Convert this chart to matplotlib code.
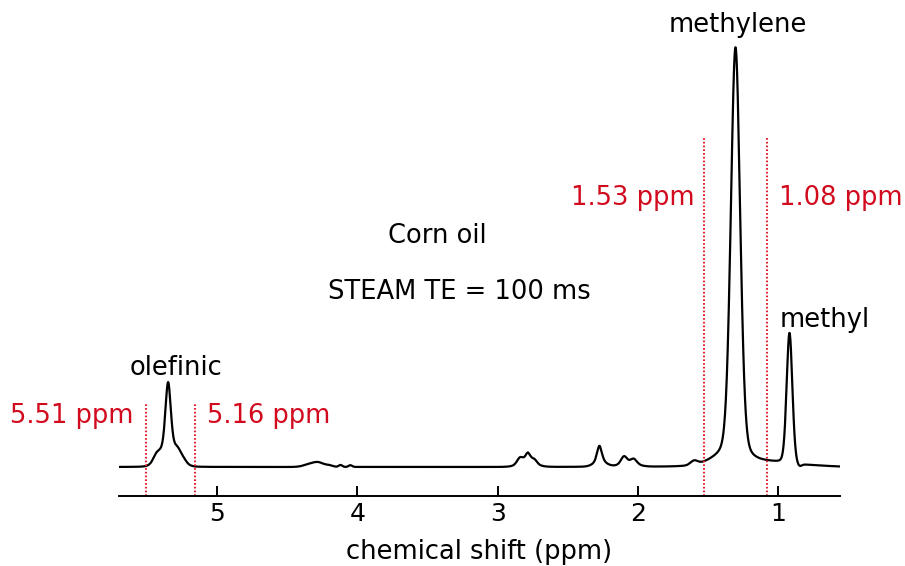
import numpy as np
import matplotlib.pyplot as plt

plt.rcParams['font.family'] = ['DejaVu Sans']

# Peak components (ppm, height in px-like units above baseline)
peak_ppm = [5.43, 5.35, 5.34, 5.28, 5.24,
            4.32, 4.27, 4.20, 4.12, 4.05,
            2.84, 2.785, 2.74, 2.79,
            2.275, 2.27, 2.10, 2.03, 2.065,
            1.60, 1.34, 1.305, 1.05,
            0.92, 0.85, 0.75]
peak_height = [7, 67, 18, 6, 3,
               3.5, 2.5, 1.5, 2, 1.8,
               6, 9, 4, 5,
               16, 5, 7.5, 5, 3.5,
               4, 10, 410, 3,
               132, -3, 1]
peak_fwhm = [0.06, 0.045, 0.15, 0.05, 0.05,
             0.12, 0.08, 0.06, 0.03, 0.03,
             0.05, 0.04, 0.045, 0.14,
             0.04, 0.10, 0.05, 0.05, 0.14,
             0.06, 0.30, 0.078, 0.20,
             0.048, 0.04, 0.25]
peak_eta = [0.0, 0.3, 0.0, 0.0, 0.0,
            0.0, 0.0, 0.0, 0.0, 0.0,
            0.0, 0.3, 0.0, 0.0,
            0.4, 0.0, 0.2, 0.2, 0.0,
            0.0, 0.0, 0.2, 0.0,
            0.2, 0.0, 0.0]

# Integration boundaries (ppm)
bounds_ppm = [5.51, 5.16, 1.53, 1.08]
bounds_top = [64, 64, 330, 330]

ticks = [5, 4, 3, 2, 1]
ppm_range = (5.70, 0.56)


def pseudo_voigt(x, center, height, fwhm, eta):
    d = (x - center) / fwhm
    lor = 1.0 / (1.0 + 4.0 * d ** 2)
    gau = np.exp(-4.0 * np.log(2) * d ** 2)
    return height * (eta * lor + (1 - eta) * gau)


ppm = np.linspace(ppm_range[1], ppm_range[0], 4000)
spectrum = np.zeros_like(ppm)
for c, h, w, e in zip(peak_ppm, peak_height, peak_fwhm, peak_eta):
    spectrum += pseudo_voigt(ppm, c, h, w, e)

fig = plt.figure(figsize=(9.05, 5.66), dpi=100)
ax = fig.add_axes([119 / 905, 70 / 566, (840 - 119) / 905, 496 / 566])

ax.plot(ppm, spectrum, color='black', lw=1.6)

red = '#d20a1e'
for b, top in zip(bounds_ppm, bounds_top):
    ax.plot([b, b], [-29, top], color='#e0202e', lw=1.5,
            linestyle=(0, (0.8, 1.0)), clip_on=False)

ax.set_xlim(*ppm_range)
ax.set_ylim(-29, 467)
ax.set_xticks(ticks)
ax.set_xticklabels([str(t) for t in ticks])
ax.tick_params(axis='x', direction='in', length=7.2, width=1.4, labelsize=18, pad=4.5)
ax.set_yticks([])
for s in ['left', 'top', 'right']:
    ax.spines[s].set_visible(False)
ax.spines['bottom'].set_linewidth(1.4)
ax.set_xlabel('chemical shift (ppm)', fontsize=18.5, labelpad=9)

# Peak labels
ax.text(1.291, 435, 'methylene', fontsize=18.5, ha='center', va='baseline')
ax.text(0.671, 140, 'methyl', fontsize=18.5, ha='center', va='baseline')
ax.text(5.297, 92, 'olefinic', fontsize=18.5, ha='center', va='baseline')

# Boundary labels
ax.text(6.035, 44, '5.51 ppm', fontsize=18.5, color=red, ha='center', va='baseline', clip_on=False)
ax.text(4.631, 44, '5.16 ppm', fontsize=18.5, color=red, ha='center', va='baseline')
ax.text(2.040, 262, '1.53 ppm', fontsize=18.5, color=red, ha='center', va='baseline')
ax.text(0.551, 262, '1.08 ppm', fontsize=18.5, color=red, ha='center', va='baseline', clip_on=False)

ax.text(3.430, 224, 'Corn oil', fontsize=18.5, ha='center', va='baseline')
ax.text(3.277, 168, 'STEAM TE = 100 ms', fontsize=18.5, ha='center', va='baseline')

fig.savefig('out.png', dpi=100)
plt.close(fig)
